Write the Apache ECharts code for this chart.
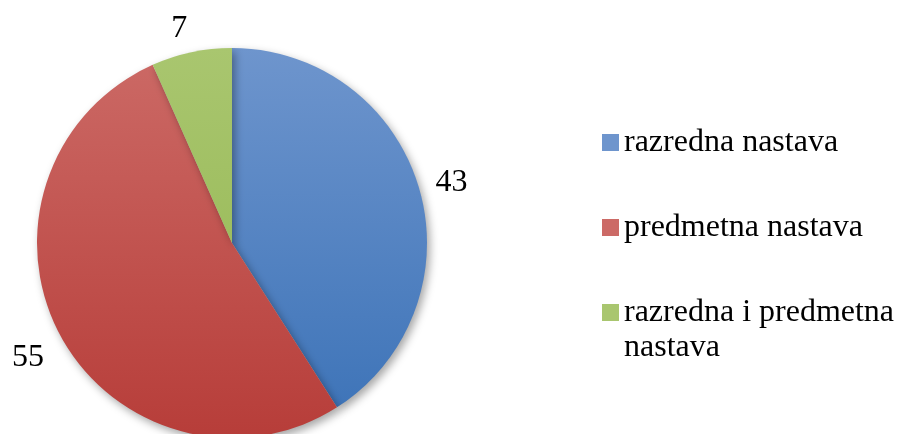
<!DOCTYPE html>
<html><head><meta charset="utf-8">
<script src="https://cdn.jsdelivr.net/npm/echarts@6/dist/echarts.min.js"></script>
<style>html,body{margin:0;padding:0;background:#fff}#c{width:898px;height:434px}</style>
</head><body><div id="c"></div>
<script>
const categories = ['razredna nastava', 'predmetna nastava', 'razredna i predmetna nastava'];
const values = [43, 55, 7];
const topColors = ['#6e95cd', '#cc6a66', '#a9c66f'];
const bottomColors = ['#3b72b7', '#b73d39', '#92b54e'];
const labelShift = [[-3, -2], [2, 15], [4, -9]];

const chart = echarts.init(document.getElementById('c'), null, {renderer: 'canvas'});
const cx = 232, cy = 243, r = 195;
function grad(i) {
  return new echarts.graphic.LinearGradient(0, cy - r, 0, cy + r, [
    {offset: 0, color: topColors[i]}, {offset: 1, color: bottomColors[i]}
  ], true);
}
const font = '"Liberation Serif", "Times New Roman", serif';
const legendText = {fontFamily: font, fontSize: 32, color: '#000', lineHeight: 35};
chart.setOption({
  animation: false,
  legend: [{
    orient: 'vertical', left: 597, top: 120,
    itemWidth: 17, itemHeight: 17, itemGap: 50, icon: 'rect',
    data: [categories[0], categories[1]],
    textStyle: legendText
  }, {
    orient: 'vertical', left: 597, top: 255,
    itemWidth: 17, itemHeight: 17, icon: 'rect',
    data: [categories[2]],
    formatter: () => ' \nrazredna i predmetna\nnastava',
    textStyle: legendText
  }],
  series: [{
    type: 'pie',
    center: [cx, cy],
    radius: r,
    startAngle: 90,
    clockwise: true,
    data: categories.map((n, i) => ({name: n, value: values[i], itemStyle: {color: grad(i)}})),
    itemStyle: {shadowBlur: 8, shadowOffsetX: 3, shadowOffsetY: 4, shadowColor: 'rgba(0,0,0,0.35)'},
    label: {show: true, position: 'outside', formatter: '{c}', fontFamily: font, fontSize: 32, color: '#000', distanceToLabelLine: 5},
    labelLine: {show: false, length: 15, length2: 0},
    labelLayout: (p) => ({dx: labelShift[p.dataIndex][0], dy: labelShift[p.dataIndex][1]}),
    emphasis: {disabled: true}
  }]
});
</script></body></html>
